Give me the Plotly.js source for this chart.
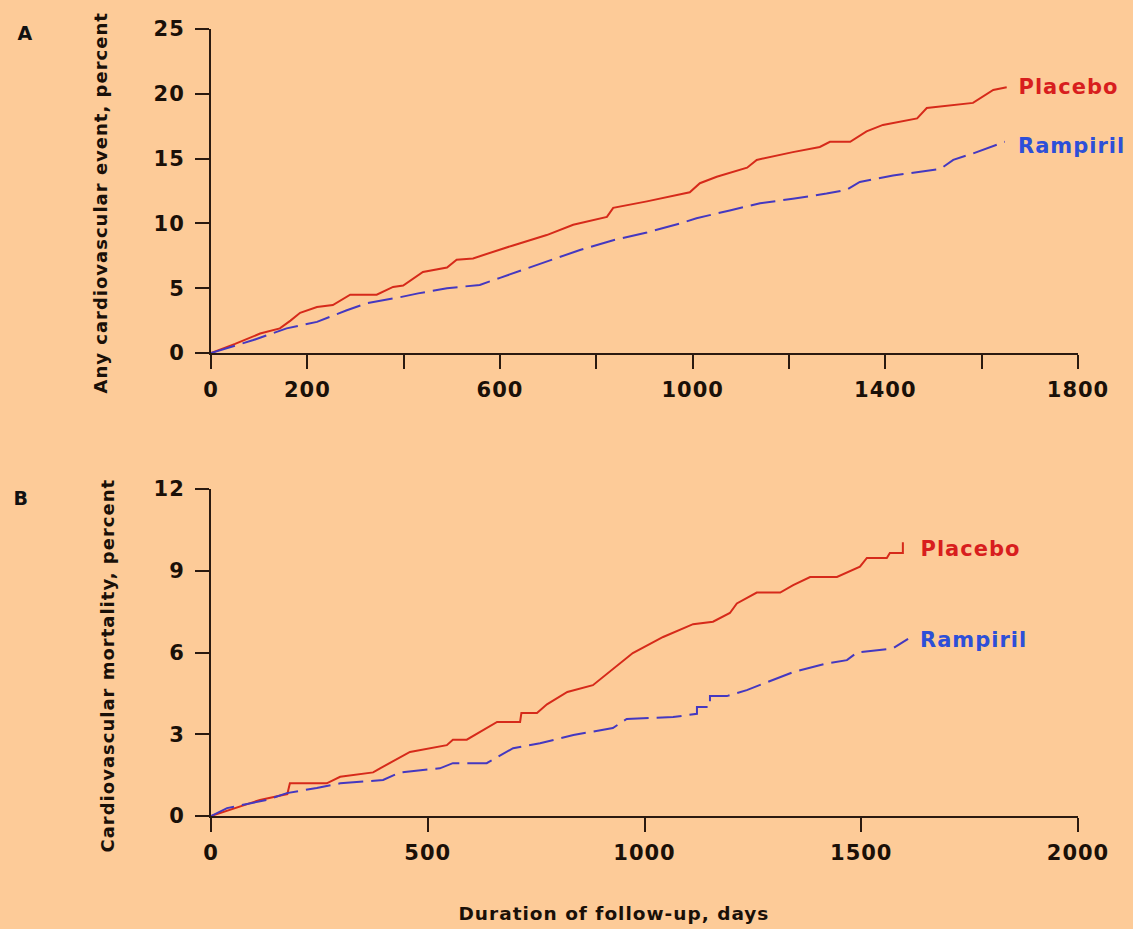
<!DOCTYPE html>
<html>
<head>
<meta charset="utf-8">
<script src="https://cdn.plot.ly/plotly-3.0.1.min.js"></script>
<style>
  html, body { margin: 0; padding: 0; background: #FDCB98; }
  #chart { width: 1133px; height: 929px; }
  #chart svg text { letter-spacing: 1px; }
</style>
</head>
<body>
<div id="chart"></div>
<script>
// ---------- Panel A: any cardiovascular event (percent) ----------
const placeboA_days = [0, 50, 102, 143, 165, 185, 220, 253, 289, 344, 378, 399, 440, 490, 510, 544, 627, 697, 752, 822, 835, 905, 994, 1015, 1050, 1113, 1133, 1181, 1208, 1264, 1285, 1327, 1361, 1395, 1466, 1486, 1582, 1624, 1652];
const placeboA_pct  = [0, 0.7, 1.5, 1.9, 2.5, 3.1, 3.55, 3.7, 4.5, 4.5, 5.1, 5.2, 6.25, 6.6, 7.2, 7.3, 8.3, 9.1, 9.9, 10.5, 11.2, 11.7, 12.4, 13.1, 13.6, 14.3, 14.9, 15.3, 15.5, 15.9, 16.3, 16.3, 17.1, 17.6, 18.1, 18.9, 19.3, 20.3, 20.5];

const rampirilA_days = [0, 88, 157, 220, 282, 324, 392, 430, 490, 558, 600, 683, 766, 835, 905, 974, 1008, 1077, 1140, 1208, 1278, 1320, 1347, 1416, 1514, 1541, 1582, 1648];
const rampirilA_pct  = [0, 1.0, 1.9, 2.4, 3.3, 3.85, 4.3, 4.6, 5.0, 5.25, 5.8, 6.9, 7.95, 8.7, 9.3, 10.0, 10.4, 11.0, 11.55, 11.9, 12.3, 12.6, 13.2, 13.7, 14.2, 14.9, 15.4, 16.3];

const xTickValsA  = [0, 200, 400, 600, 800, 1000, 1200, 1400, 1600, 1800];
const xTickTextA  = ["0", "200", "", "600", "", "1000", "", "1400", "", "1800"];
const yTickValsA  = [0, 5, 10, 15, 20, 25];

// ---------- Panel B: cardiovascular mortality (percent) ----------
const placeboB_days = [0, 60, 113, 166, 176, 182, 267, 298, 374, 390, 436, 459, 544, 558, 590, 660, 713, 716, 752, 775, 822, 881, 973, 1043, 1112, 1158, 1197, 1213, 1259, 1313, 1343, 1382, 1444, 1497, 1513, 1559, 1566, 1596, 1596];
const placeboB_pct  = [0, 0.3, 0.59, 0.77, 0.8, 1.2, 1.2, 1.44, 1.6, 1.75, 2.15, 2.35, 2.6, 2.8, 2.8, 3.45, 3.45, 3.78, 3.78, 4.1, 4.55, 4.8, 5.98, 6.57, 7.04, 7.13, 7.45, 7.8, 8.2, 8.2, 8.47, 8.77, 8.77, 9.15, 9.47, 9.47, 9.65, 9.65, 10.05];

const rampirilB_days = [0, 37, 129, 175, 244, 298, 397, 406, 436, 528, 558, 636, 697, 759, 836, 927, 959, 1066, 1121, 1121, 1151, 1151, 1190, 1236, 1273, 1313, 1343, 1421, 1467, 1490, 1543, 1573, 1608];
const rampirilB_pct  = [0, 0.29, 0.59, 0.84, 1.03, 1.2, 1.32, 1.39, 1.6, 1.75, 1.94, 1.94, 2.49, 2.67, 2.97, 3.23, 3.56, 3.63, 3.75, 4.0, 4.0, 4.4, 4.4, 4.62, 4.85, 5.1, 5.28, 5.6, 5.72, 6.0, 6.08, 6.15, 6.5];

const xTickValsB  = [0, 500, 1000, 1500, 2000];
const yTickValsB  = [0, 3, 6, 9, 12];

const seriesNames = ["Placebo", "Rampiril"];
const titleA = "Any cardiovascular event, percent";
const titleB = "Cardiovascular mortality, percent";
const titleX = "Duration of follow-up, days";

// ---------- styling ----------
const BG = "#FDCB98";
const AXIS = "#2a1a10";
const RED = "#d62a1a";
const BLUE = "#4438c0";
const FONT = "DejaVu Sans";
const DASH = "25px,8px";

const traces = [
  { x: placeboA_days, y: placeboA_pct, xaxis: "x", yaxis: "y", mode: "lines", name: seriesNames[0],
    line: { color: RED, width: 2 } },
  { x: rampirilA_days, y: rampirilA_pct, xaxis: "x", yaxis: "y", mode: "lines", name: seriesNames[1],
    line: { color: BLUE, width: 2, dash: DASH } },
  { x: placeboB_days, y: placeboB_pct, xaxis: "x2", yaxis: "y2", mode: "lines", name: seriesNames[0],
    line: { color: RED, width: 2 } },
  { x: rampirilB_days, y: rampirilB_pct, xaxis: "x2", yaxis: "y2", mode: "lines", name: seriesNames[1],
    line: { color: BLUE, width: 2, dash: DASH } }
];

const tickFont = { family: FONT, size: 21, color: "#1a1008", weight: "bold" };
const xDomain = [211 / 1133, 1078 / 1133];
const commonAxis = {
  showgrid: false, zeroline: false, showline: true, linecolor: AXIS, linewidth: 2,
  ticks: "outside", ticklen: 14, tickwidth: 2, tickcolor: AXIS, tickfont: tickFont,
  fixedrange: true
};

const titleFont = { family: FONT, size: 18, color: "#1a1008", weight: "bold" };
const labelRed = { family: FONT, size: 21, color: "#d81e1e", weight: "bold" };
const labelBlue = { family: FONT, size: 21, color: "#2d4fd8", weight: "bold" };
const panelFont = { family: FONT, size: 19, color: "#111", weight: "bold" };

const layout = {
  width: 1133, height: 929,
  paper_bgcolor: BG, plot_bgcolor: BG,
  margin: { l: 0, r: 0, t: 0, b: 0 },
  showlegend: false,
  xaxis: Object.assign({}, commonAxis, {
    domain: xDomain, anchor: "y", range: [0, 1800],
    tickmode: "array", tickvals: xTickValsA, ticktext: xTickTextA, ticklabelstandoff: 3
  }),
  yaxis: Object.assign({}, commonAxis, {
    domain: [1 - 353 / 929, 1 - 29 / 929], anchor: "x", range: [0, 25],
    tickmode: "array", tickvals: yTickValsA, ticklabelstandoff: 6
  }),
  xaxis2: Object.assign({}, commonAxis, {
    domain: xDomain, anchor: "y2", range: [0, 2000],
    tickmode: "array", tickvals: xTickValsB, ticklabelstandoff: 3
  }),
  yaxis2: Object.assign({}, commonAxis, {
    domain: [1 - 816 / 929, 1 - 489 / 929], anchor: "x2", range: [0, 12],
    tickmode: "array", tickvals: yTickValsB, ticklabelstandoff: 6
  }),
  annotations: [
    { text: "<b>A</b>", xref: "paper", yref: "paper", x: 25 / 1133, y: 1 - 33 / 929, showarrow: false,
      xanchor: "center", yanchor: "middle", font: panelFont },
    { text: "<b>B</b>", xref: "paper", yref: "paper", x: 21 / 1133, y: 1 - 498 / 929, showarrow: false,
      xanchor: "center", yanchor: "middle", font: panelFont },
    { text: titleA, xref: "paper", yref: "paper", x: 100 / 1133, y: 1 - 203 / 929, textangle: -90, showarrow: false,
      xanchor: "center", yanchor: "middle", font: titleFont },
    { text: titleB, xref: "paper", yref: "paper", x: 107 / 1133, y: 1 - 666 / 929, textangle: -90, showarrow: false,
      xanchor: "center", yanchor: "middle", font: titleFont },
    { text: titleX, xref: "paper", yref: "paper", x: 614 / 1133, y: 1 - 913 / 929, showarrow: false,
      xanchor: "center", yanchor: "middle", font: Object.assign({}, titleFont, { size: 18.5 }) },
    { text: seriesNames[0], xref: "x", yref: "y", x: 1679, y: 20.5, showarrow: false,
      xanchor: "left", yanchor: "middle", font: labelRed },
    { text: seriesNames[1], xref: "x", yref: "y", x: 1679, y: 16.0, showarrow: false,
      xanchor: "left", yanchor: "middle", font: labelBlue },
    { text: seriesNames[0], xref: "x2", yref: "y2", x: 1640, y: 9.8, showarrow: false,
      xanchor: "left", yanchor: "middle", font: labelRed },
    { text: seriesNames[1], xref: "x2", yref: "y2", x: 1640, y: 6.46, showarrow: false,
      xanchor: "left", yanchor: "middle", font: labelBlue }
  ]
};

Plotly.newPlot("chart", traces, layout, { staticPlot: true, displayModeBar: false });
</script>
</body>
</html>
